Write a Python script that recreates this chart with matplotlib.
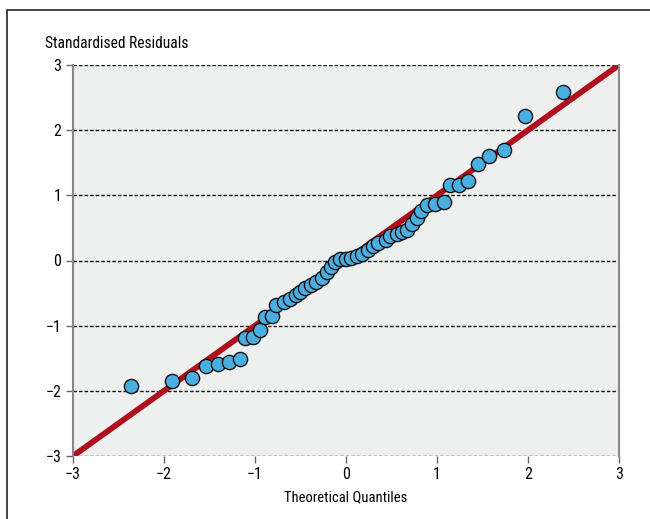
import matplotlib
matplotlib.use("Agg")
import matplotlib.pyplot as plt
from matplotlib.patches import Rectangle
import numpy as np

# theoretical quantiles vs standardised residuals
theoretical = [-2.36, -1.91, -1.69, -1.54, -1.41, -1.29, -1.16, -1.11, -1.02, -0.95,
               -0.89, -0.81, -0.77, -0.68, -0.62, -0.55, -0.51, -0.45, -0.38, -0.33,
               -0.26, -0.21, -0.16, -0.12, -0.07, 0.00, 0.05, 0.12, 0.18, 0.24,
               0.30, 0.35, 0.44, 0.48, 0.56, 0.62, 0.67, 0.73, 0.78, 0.82,
               0.89, 0.98, 1.08, 1.14, 1.24, 1.34, 1.45, 1.57, 1.74, 1.97, 2.38]
residuals = [-1.93, -1.85, -1.80, -1.62, -1.59, -1.56, -1.51, -1.19, -1.17, -1.07,
             -0.87, -0.85, -0.68, -0.64, -0.59, -0.53, -0.48, -0.42, -0.38, -0.33,
             -0.27, -0.18, -0.10, -0.02, 0.02, 0.02, 0.04, 0.07, 0.10, 0.16,
             0.22, 0.27, 0.31, 0.38, 0.41, 0.44, 0.47, 0.56, 0.65, 0.76,
             0.85, 0.87, 0.90, 1.16, 1.16, 1.22, 1.48, 1.60, 1.69, 2.22, 2.59]
ref_line = [-3, 3]
ticks = [-3, -2, -1, 0, 1, 2, 3]
tick_labels = ["\u22123", "\u22122", "\u22121", "0", "1", "2", "3"]

plt.rcParams['font.family'] = ['Roboto Condensed', 'Liberation Sans Narrow',
                               'Liberation Sans', 'DejaVu Sans']

fig = plt.figure(figsize=(6.5, 5.19), dpi=100)
# outer frame
fig.patches.append(Rectangle((7 / 650, -0.1), 1.2, 1.1 - 10 / 519, transform=fig.transFigure,
                             fill=False, edgecolor="#222222", linewidth=1.2))

ax = fig.add_axes([73 / 650, 1 - 456 / 519, 546 / 650, 391 / 519])
ax.set_facecolor("#eef0ef")

ax.plot(ref_line, ref_line, color="#b0101e", linewidth=4.2, zorder=2, solid_capstyle="butt")
ax.scatter(theoretical, residuals, s=105, facecolor="#4aaee0", edgecolor="#111111",
           linewidth=1.0, zorder=3)

ax.set_xlim(-3, 3)
ax.set_ylim(-3, 3)
ax.set_xticks(ticks)
ax.set_xticklabels(tick_labels)
ax.set_yticks(ticks)
ax.set_yticklabels(tick_labels)
ax.tick_params(labelsize=11.5, length=5, color="#666666", width=1)
ax.tick_params(axis="x", pad=3)

ax.yaxis.grid(True, color="#111111", linestyle=(0, (2.5, 1.5)), linewidth=1.0)
ax.set_axisbelow(True)
for side in ["top", "bottom"]:
    ax.spines[side].set_visible(False)
for side in ["left", "right"]:
    ax.spines[side].set_color("#888888")
    ax.spines[side].set_linewidth(1.5)

ax.set_xlabel("Theoretical Quantiles", fontsize=10.5, labelpad=6)
fig.text(45 / 650, 1 - 44 / 519, "Standardised Residuals", fontsize=11.2,
         ha="left", va="center")

fig.savefig("out.png", dpi=100)
